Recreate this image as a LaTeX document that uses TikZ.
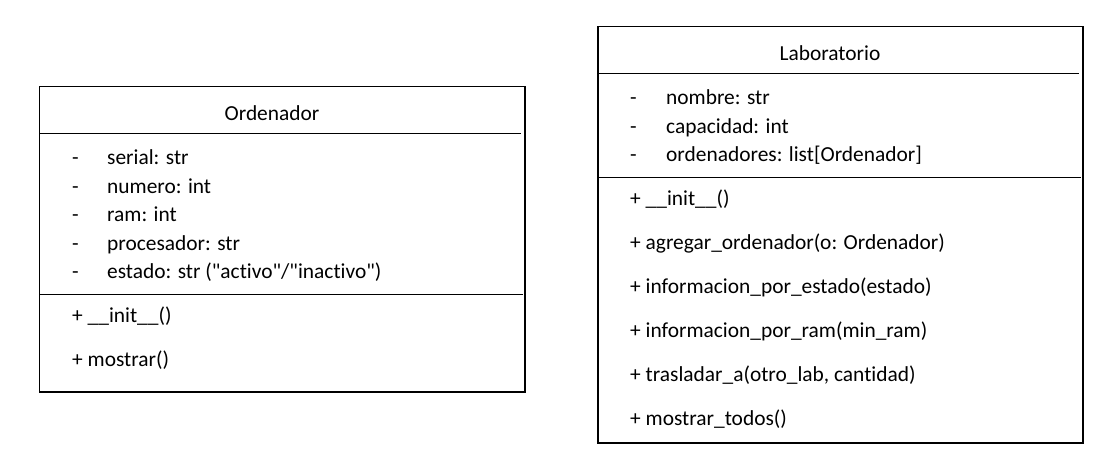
\documentclass[tikz,border=0pt]{standalone}
\usepackage{fontspec}
\setmainfont{Carlito}[Ligatures={TeXOff,NoCommon}]
\begin{document}
\begin{tikzpicture}[x=1bp,y=-1bp,
  box/.style={draw=black, line width=1.5bp, inner sep=0pt, anchor=north west},
  divider/.style={draw=black, line width=0.9bp},
  txt/.style={anchor=base west, inner sep=0pt, font=\fontsize{21.4bp}{25bp}\selectfont},
  ttl/.style={anchor=base, inner sep=0pt, font=\fontsize{21.4bp}{25bp}\selectfont}]
\useasboundingbox (0,0) rectangle (1112,468);
% Ordenador class
\node[box, minimum width=485.5bp, minimum height=305bp] (ordbox) at (38.5,86) {};
\coordinate (od1a) at (40,133); \coordinate (od1b) at (521,133);
\coordinate (od2a) at (40,294); \coordinate (od2b) at (523,294);
\draw[divider] (od1a) -- (od1b);
\draw[divider] (od2a) -- (od2b);
\node[ttl] (ordtitle) at (272,121) {Ordenador};
\node[txt] (od1) at (72,165) {-};
\node[txt] (oa1) at (107,165) {serial: str};
\node[txt] (od2) at (72,193.5) {-};
\node[txt] (oa2) at (107,193.5) {numero: int};
\node[txt] (od3) at (72,222) {-};
\node[txt] (oa3) at (107,222) {ram: int};
\node[txt] (od4) at (72,250.5) {-};
\node[txt] (oa4) at (107,250.5) {procesador: str};
\node[txt] (od5) at (72,279) {-};
\node[txt] (oa5) at (107,279) {estado: str ("activo"/"inactivo")};
\node[txt] (om1) at (72,323) {+ \_\_init\_\_()};
\node[txt] (om2) at (72,366.5) {+ mostrar()};
% Laboratorio class
\node[box, minimum width=485bp, minimum height=416bp] (labbox) at (597,26) {};
\coordinate (ld1a) at (598,73); \coordinate (ld1b) at (1079,73);
\coordinate (ld2a) at (598,177); \coordinate (ld2b) at (1081,177);
\draw[divider] (ld1a) -- (ld1b);
\draw[divider] (ld2a) -- (ld2b);
\node[ttl] (labtitle) at (830,61) {Laboratorio};
\node[txt] (ld1) at (630,105) {-};
\node[txt] (la1) at (666,105) {nombre: str};
\node[txt] (ld2) at (630,133.5) {-};
\node[txt] (la2) at (666,133.5) {capacidad: int};
\node[txt] (ld3) at (630,162) {-};
\node[txt] (la3) at (666,162) {ordenadores: list[Ordenador]};
\node[txt] (lm1) at (630,206) {+ \_\_init\_\_()};
\node[txt] (lm2) at (630,250) {+ agregar\_ordenador(o: Ordenador)};
\node[txt] (lm3) at (630,294) {+ informacion\_por\_estado(estado)};
\node[txt] (lm4) at (630,338) {+ informacion\_por\_ram(min\_ram)};
\node[txt] (lm5) at (630,382) {+ trasladar\_a(otro\_lab, cantidad)};
\node[txt] (lm6) at (630,426) {+ mostrar\_todos()};
\end{tikzpicture}
\end{document}
